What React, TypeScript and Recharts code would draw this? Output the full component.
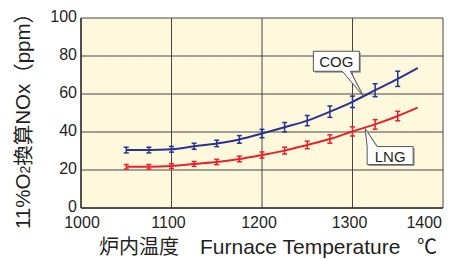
import {
  ComposedChart,
  Line,
  XAxis,
  YAxis,
  CartesianGrid,
  ErrorBar,
  ReferenceDot,
} from 'recharts'

const temps = [1050, 1075, 1100, 1125, 1150, 1175, 1200, 1225, 1250, 1275, 1300, 1325, 1350]
const cogNox = [30.5, 30.5, 30.9, 32.5, 34, 36.1, 39.2, 42.5, 46, 50.7, 55.9, 62, 68]
const cogErr = [1.5, 1.5, 1.5, 1.6, 1.7, 2, 2.2, 2.5, 2.7, 3, 3, 3.4, 4]
const lngNox = [21.7, 21.7, 22.1, 23.2, 24.2, 25.8, 27.9, 30.2, 33.2, 36.3, 40.3, 44, 48.4]
const lngErr = [1.2, 1.2, 1.2, 1.3, 1.4, 1.5, 1.6, 1.8, 2, 2.2, 2.4, 2.5, 2.5]

// fitted curve runs a little past the last measurement
const fitEndTemp = 1372
const cogFitEnd = 73.7
const lngFitEnd = 52.8

const xTicks = [1000, 1100, 1200, 1300, 1400]
const yTicks = [0, 20, 40, 60, 80, 100]

const BLUE = '#27348f'
const RED = '#e8202a'
const INK = '#231f20'

const cogPoints = temps.map((t, i) => ({ t, v: cogNox[i], err: cogErr[i] }))
const lngPoints = temps.map((t, i) => ({ t, v: lngNox[i], err: lngErr[i] }))
const cogFit = [...cogPoints.map(p => ({ t: p.t, v: p.v })), { t: fitEndTemp, v: cogFitEnd }]
const lngFit = [...lngPoints.map(p => ({ t: p.t, v: p.v })), { t: fitEndTemp, v: lngFitEnd }]

const XTick = (props: any) => {
  const { x, y, payload } = props
  const last = payload.value === 1400
  const first = payload.value === 1000
  return (
    <text
      x={last ? x + 4 : first ? x + 1 : x - 3}
      y={y}
      dy={20}
      textAnchor={last ? 'end' : 'middle'}
      fontSize={16}
      fontFamily="Liberation Sans, Arial, sans-serif"
      fill={INK}
    >
      {payload.value}
    </text>
  )
}

const YTitle = () => (
  <text
    transform="translate(22, 116) rotate(-90)"
    textAnchor="middle"
    dominantBaseline="central"
    fontSize={20.5}
    fontFamily="Liberation Sans, 'Noto Sans CJK JP', sans-serif"
    fill={INK}
  >
    11%O<tspan fontSize={14} dy={3}>2</tspan>
    <tspan dy={-3} fontFamily="'Noto Sans CJK JP'">換算</tspan>NOx
    <tspan fontFamily="'Noto Sans CJK JP'">（</tspan>ppm
    <tspan fontFamily="'Noto Sans CJK JP'">）</tspan>
  </text>
)

const XTitle = () => (
  <text y={254} fontSize={20} fill={INK} fontFamily="Liberation Sans, 'Noto Sans CJK JP', sans-serif">
    <tspan x={99} fontFamily="'Noto Sans CJK JP'">炉内温度</tspan>
    <tspan x={200} fontSize={21}>Furnace Temperature</tspan>
    <tspan x={417} fontFamily="'Noto Sans CJK JP'">℃</tspan>
  </text>
)

const CogCallout = ({ cx, cy }: any) => {
  const l = cx - 50, r = cx - 4, t = cy - 45, b = cy - 25
  const d = `M${l},${t} H${r} V${b} H${cx - 13} L${cx},${cy} L${cx - 21},${b} H${l} Z`
  return (
    <g>
      <path d={d} transform="translate(1.5,1.5)" fill="#9a9a9a" />
      <path d={d} fill="#fff" stroke="#555" strokeWidth={1} />
      <text x={(l + r) / 2} y={b - 4} textAnchor="middle" fontSize={15} fontFamily="Liberation Sans, Arial" fill={INK}>
        COG
      </text>
    </g>
  )
}

const LngCallout = ({ cx, cy }: any) => {
  const l = cx + 2, r = cx + 48, t = cy + 18, b = cy + 36
  const d = `M${l},${t} L${cx},${cy} L${cx + 12},${t} H${r} V${b} H${l} Z`
  return (
    <g>
      <path d={d} transform="translate(1.5,1.5)" fill="#9a9a9a" />
      <path d={d} fill="#fff" stroke="#555" strokeWidth={1} />
      <text x={(l + r) / 2} y={b - 3} textAnchor="middle" fontSize={15} fontFamily="Liberation Sans, Arial" fill={INK}>
        LNG
      </text>
    </g>
  )
}

export default function App() {
  return (
    <div style={{ position: 'absolute', left: 0, top: 0, background: '#fff' }}>
      <ComposedChart width={454} height={259} margin={{ top: 18, right: 11, bottom: 0, left: 0 }}>
        <CartesianGrid fill="#fef9dc" stroke="#4a4444" strokeWidth={1} />
        <XAxis
          type="number"
          dataKey="t"
          domain={[1000, 1400]}
          ticks={xTicks}
          height={51}
          tickSize={0}
          tickMargin={0}
          tick={<XTick />}
          axisLine={{ stroke: '#3a3535', strokeWidth: 1.5 }}
          allowDataOverflow
          label={{ content: <XTitle /> }}
        />
        <YAxis
          type="number"
          domain={[0, 100]}
          ticks={yTicks}
          width={81}
          tickSize={0}
          tickMargin={4}
          tick={{ fontSize: 16, fill: INK, fontFamily: 'Liberation Sans, Arial', dy: -2 }}
          axisLine={{ stroke: '#3a3535', strokeWidth: 1.5 }}
          label={{ content: <YTitle /> }}
        />
        <Line data={lngFit} dataKey="v" type="monotone" stroke={RED} strokeWidth={2} dot={false} isAnimationActive={false} />
        <Line data={cogFit} dataKey="v" type="monotone" stroke={BLUE} strokeWidth={2} dot={false} isAnimationActive={false} />
        <Line data={lngPoints} dataKey="v" stroke="none" dot={false} isAnimationActive={false}>
          <ErrorBar dataKey="err" width={2.5} stroke={RED} strokeWidth={1.5} />
        </Line>
        <Line data={cogPoints} dataKey="v" stroke="none" dot={false} isAnimationActive={false}>
          <ErrorBar dataKey="err" width={2.5} stroke={BLUE} strokeWidth={1.5} />
        </Line>
        <ReferenceDot x={1312} y={58.8} shape={(p: any) => <CogCallout {...p} />} />
        <ReferenceDot x={1314} y={41.8} shape={(p: any) => <LngCallout {...p} />} />
      </ComposedChart>
    </div>
  )
}
